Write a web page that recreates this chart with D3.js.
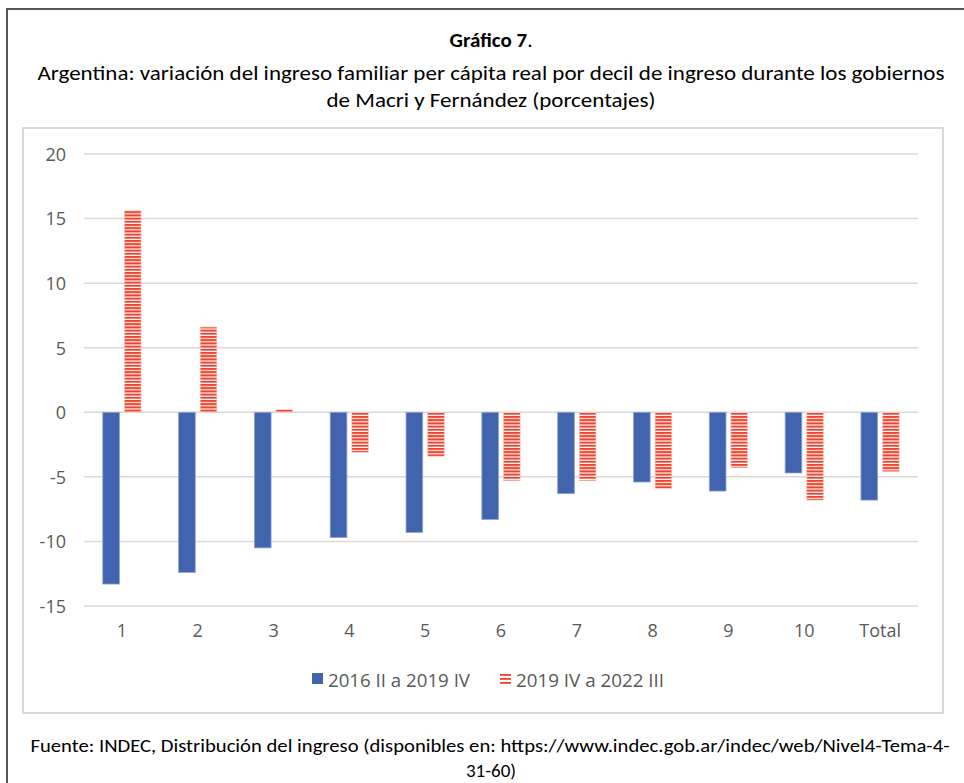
<!DOCTYPE html>
<html><head><meta charset="utf-8">
<script src="https://cdn.jsdelivr.net/npm/d3@7"></script>
<style>body{margin:0;background:#fff}svg{display:block}</style>
</head><body>
<svg id="c" width="964" height="783"></svg>
<script>
const categories = ["1","2","3","4","5","6","7","8","9","10","Total"];
const serie1 = [-13.3,-12.4,-10.5,-9.7,-9.3,-8.3,-6.3,-5.4,-6.1,-4.7,-6.8]; // 2016 II a 2019 IV
const serie2 = [15.6,6.6,0.2,-3.1,-3.4,-5.3,-5.3,-5.9,-4.3,-6.8,-4.6];    // 2019 IV a 2022 III
const seriesNames = ["2016 II a 2019 IV","2019 IV a 2022 III"];
const yTicks = [20,15,10,5,0,-5,-10,-15];

const svg = d3.select("#c");
const font = "Calibri, Carlito, 'Liberation Sans Narrow', Lato, sans-serif";
const afont = "'Open Sans', sans-serif";

// outer frame
svg.append("rect").attr("x",7).attr("y",9).attr("width",970).attr("height",800)
  .attr("fill","none").attr("stroke","#555").attr("stroke-width",2);
// inner chart box
svg.append("rect").attr("x",23).attr("y",128).attr("width",920).attr("height",585)
  .attr("fill","#fff").attr("stroke","#d9d9d9").attr("stroke-width",2);

// pattern
const defs = svg.append("defs");
const pat = defs.append("pattern").attr("id","hstripe").attr("patternUnits","userSpaceOnUse")
  .attr("width",8).attr("height",3.2);
pat.append("rect").attr("width",8).attr("height",3.2).attr("fill","#fff");
pat.append("rect").attr("width",8).attr("height",2).attr("fill","#f2402a");

// title
const t = svg.append("text").attr("x",491).attr("y",47).attr("text-anchor","middle")
  .attr("font-family",font).attr("font-size",21).attr("fill","#000");
t.append("tspan").attr("font-weight","bold").text("Gráfico 7");
t.append("tspan").text(".");
svg.append("text").attr("x",491).attr("y",80).attr("text-anchor","middle")
  .attr("font-family",font).attr("font-size",20).attr("fill","#000")
  .attr("textLength",907).attr("lengthAdjust","spacingAndGlyphs")
  .text("Argentina: variación del ingreso familiar per cápita real por decil de ingreso durante los gobiernos");
svg.append("text").attr("x",491).attr("y",107).attr("text-anchor","middle")
  .attr("font-family",font).attr("font-size",20).attr("fill","#000")
  .attr("textLength",329).attr("lengthAdjust","spacingAndGlyphs")
  .text("de Macri y Fernández (porcentajes)");

// scales
const x = d3.scaleBand().domain(categories).range([84,918]).padding(0);
const y = d3.scaleLinear().domain([-15,20]).range([606,154]);

// grid
svg.append("g").selectAll("line").data(yTicks).join("line")
  .attr("x1",84).attr("x2",918).attr("y1",d=>y(d)).attr("y2",d=>y(d))
  .attr("stroke","#d9d9d9").attr("stroke-width",1.5);

// y axis labels
const yAxis = d3.axisLeft(y).tickValues(yTicks).tickSize(0).tickPadding(0).tickFormat(d=>String(d));
const ya = svg.append("g").attr("transform","translate(66,0)").call(yAxis);
ya.select(".domain").remove();
ya.selectAll("text").attr("font-family",afont).attr("font-size",18).attr("fill","#595959").attr("dy","0.35em");

// x axis labels
const xAxis = d3.axisBottom(x).tickSize(0).tickPadding(0);
const xa = svg.append("g").attr("transform","translate(0,623)").call(xAxis);
xa.select(".domain").remove();
xa.selectAll("text").attr("font-family",afont).attr("font-size",18).attr("fill","#595959").attr("dy","0.8em");

const bw = x.bandwidth()*0.22, gap = x.bandwidth()*0.065;
// blue bars
svg.append("g").selectAll("rect").data(categories).join("rect")
  .attr("x",(d)=>x(d)+x.bandwidth()/2 - gap/2 - bw)
  .attr("y",(d,i)=>y(Math.max(0,serie1[i])))
  .attr("width",bw)
  .attr("height",(d,i)=>Math.abs(y(serie1[i])-y(0)))
  .attr("fill","#4264ae").attr("stroke","#8fa5d6").attr("stroke-width",0.8);
// red bars
svg.append("g").selectAll("rect").data(categories).join("rect")
  .attr("x",(d)=>x(d)+x.bandwidth()/2 + gap/2)
  .attr("y",(d,i)=>y(Math.max(0,serie2[i])))
  .attr("width",bw)
  .attr("height",(d,i)=>Math.max(1.5,Math.abs(y(serie2[i])-y(0))))
  .attr("fill","url(#hstripe)").attr("stroke","#fbc9c0").attr("stroke-width",0.6);

// legend
const lg = svg.append("g");
lg.append("rect").attr("x",312).attr("y",673).attr("width",11).attr("height",11).attr("fill","#4264ae");
lg.append("text").attr("x",328).attr("y",687).attr("font-family",afont).attr("font-size",18).attr("fill","#595959")
  .attr("textLength",142).attr("lengthAdjust","spacingAndGlyphs").text(seriesNames[0]);
[0,4,8].forEach(o=>lg.append("rect").attr("x",500).attr("y",674+o).attr("width",11).attr("height",1.8).attr("fill","#f2402a"));
lg.append("text").attr("x",516).attr("y",687).attr("font-family",afont).attr("font-size",18).attr("fill","#595959")
  .attr("textLength",148).attr("lengthAdjust","spacingAndGlyphs").text(seriesNames[1]);

// footer
svg.append("text").attr("x",490).attr("y",752).attr("text-anchor","middle")
  .attr("font-family",font).attr("font-size",19).attr("fill","#000")
  .attr("textLength",919).attr("lengthAdjust","spacingAndGlyphs")
  .text("Fuente: INDEC, Distribución del ingreso (disponibles en: https://www.indec.gob.ar/indec/web/Nivel4-Tema-4-");
svg.append("text").attr("x",491).attr("y",777).attr("text-anchor","middle")
  .attr("font-family",font).attr("font-size",19).attr("fill","#000").text("31-60)");
</script>
</body></html>
